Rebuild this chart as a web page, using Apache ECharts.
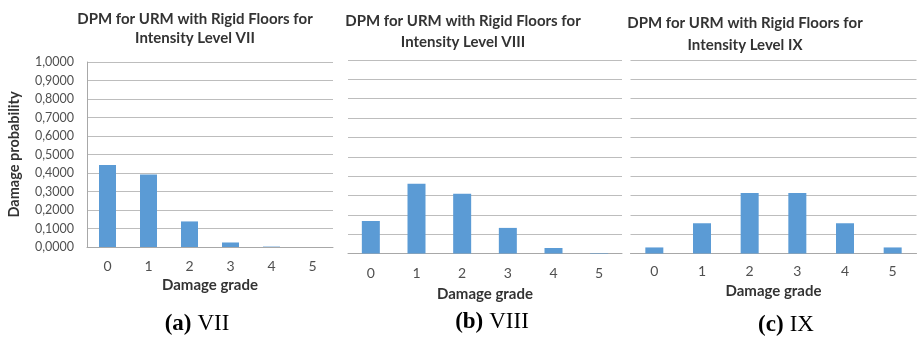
<!DOCTYPE html>
<html>
<head>
<meta charset="utf-8">
<title>DPM for URM with Rigid Floors</title>
<script src="https://cdn.jsdelivr.net/npm/echarts@6/dist/echarts.min.js"></script>
<style>
    html, body { margin: 0; padding: 0; background: #fff; }
    #chart { width: 919px; height: 338px; }
</style>
</head>
<body>
<div id="chart"></div>
<script>
// damage grades on the x axis
const grades = ['0', '1', '2', '3', '4', '5'];
// damage probability per grade
const levelVII = [0.4437, 0.3915, 0.1382, 0.0244, 0.0022, 0.0001];
const levelVIII = [0.1681, 0.3602, 0.3087, 0.1323, 0.0284, 0.0024];
const levelIX = [0.0313, 0.1563, 0.3125, 0.3125, 0.1563, 0.0313];
const titles = [
    'DPM for URM with Rigid Floors for\nIntensity Level VII',
    'DPM for URM with Rigid Floors for\nIntensity Level VIII',
    'DPM for URM with Rigid Floors for\nIntensity Level IX'
];
const captions = [['(a)', 'VII'], ['(b)', 'VIII'], ['(c)', 'IX']];

const font = 'Lato, "Open Sans", sans-serif';
const blue = '#5b9bd5';
const gridColor = '#bdbdbd';
const labelColor = '#505050';

// panel geometry, px
const panels = [
    { left: 87, top: 62, width: 246, height: 185, barWidth: 17, labelMargin: 12, nameGap: 31, titleX: 190, titleTop: 5, lineHeight: 19, capX: 197, capY: 324 },
    { left: 348, top: 60, width: 274, height: 193.5, barWidth: 18, labelMargin: 13, nameGap: 33, titleX: 458, titleTop: 6, lineHeight: 21, capX: 492, capY: 322 },
    { left: 630.5, top: 60, width: 286, height: 193.5, barWidth: 18, labelMargin: 11, nameGap: 29, titleX: 740, titleTop: 7, lineHeight: 22, capX: 786, capY: 325 }
];
const dataSets = [levelVII, levelVIII, levelIX];

let chart = echarts.init(document.getElementById('chart'), null, { renderer: 'canvas' });

let options = {
    animation: false,
    backgroundColor: '#fff',
    title: panels.map((p, i) => ({
        text: titles[i],
        left: p.titleX,
        top: p.titleTop,
        textAlign: 'center',
        textStyle: {
            fontFamily: font,
            fontSize: 15,
            fontWeight: 'bold',
            color: '#333333',
            lineHeight: p.lineHeight
        }
    })),
    grid: panels.map(p => ({
        left: p.left,
        top: p.top,
        width: p.width,
        height: p.height,
        containLabel: false
    })),
    xAxis: panels.map((p, i) => ({
        type: 'category',
        gridIndex: i,
        data: grades,
        name: 'Damage grade',
        nameLocation: 'middle',
        nameGap: p.nameGap,
        nameTextStyle: {
            fontFamily: font,
            fontSize: 15,
            fontWeight: 'bold',
            color: '#333333'
        },
        axisTick: { show: false },
        axisLine: { lineStyle: { color: '#a8a8a8', width: 1 } },
        axisLabel: {
            margin: p.labelMargin,
            fontFamily: font,
            fontSize: 14,
            color: labelColor
        }
    })),
    yAxis: panels.map((p, i) => ({
        type: 'value',
        gridIndex: i,
        min: 0,
        max: 1,
        interval: 0.1,
        name: i === 0 ? 'Damage probability' : '',
        nameLocation: 'middle',
        nameGap: 65,
        nameTextStyle: {
            fontFamily: font,
            fontSize: 14.5,
            fontWeight: 'bold',
            color: '#333333'
        },
        axisLine: { show: i === 0, lineStyle: { color: '#a8a8a8' } },
        axisTick: { show: false },
        axisLabel: {
            show: i === 0,
            margin: 13,
            fontFamily: font,
            fontSize: 12.5,
            color: labelColor,
            formatter: v => v.toFixed(4).replace('.', ',')
        },
        splitLine: { lineStyle: { color: gridColor, width: 1 } }
    })),
    series: dataSets.map((d, i) => ({
        type: 'bar',
        xAxisIndex: i,
        yAxisIndex: i,
        data: d,
        barWidth: panels[i].barWidth,
        itemStyle: { color: blue }
    })),
    graphic: panels.map((p, i) => ({
        type: 'text',
        x: p.capX,
        y: p.capY,
        style: {
            text: '{b|' + captions[i][0] + '}{s| }{r|' + captions[i][1] + '}',
            align: 'center',
            verticalAlign: 'middle',
            rich: {
                b: { fontFamily: '"Liberation Serif", serif', fontSize: 23, fontWeight: 'bold', fill: '#000' },
                s: { fontFamily: '"Liberation Serif", serif', fontSize: 23, width: 6 },
                r: { fontFamily: '"Liberation Serif", serif', fontSize: 23, fill: '#000' }
            }
        }
    }))
};
chart.setOption(options);
</script>
</body>
</html>
